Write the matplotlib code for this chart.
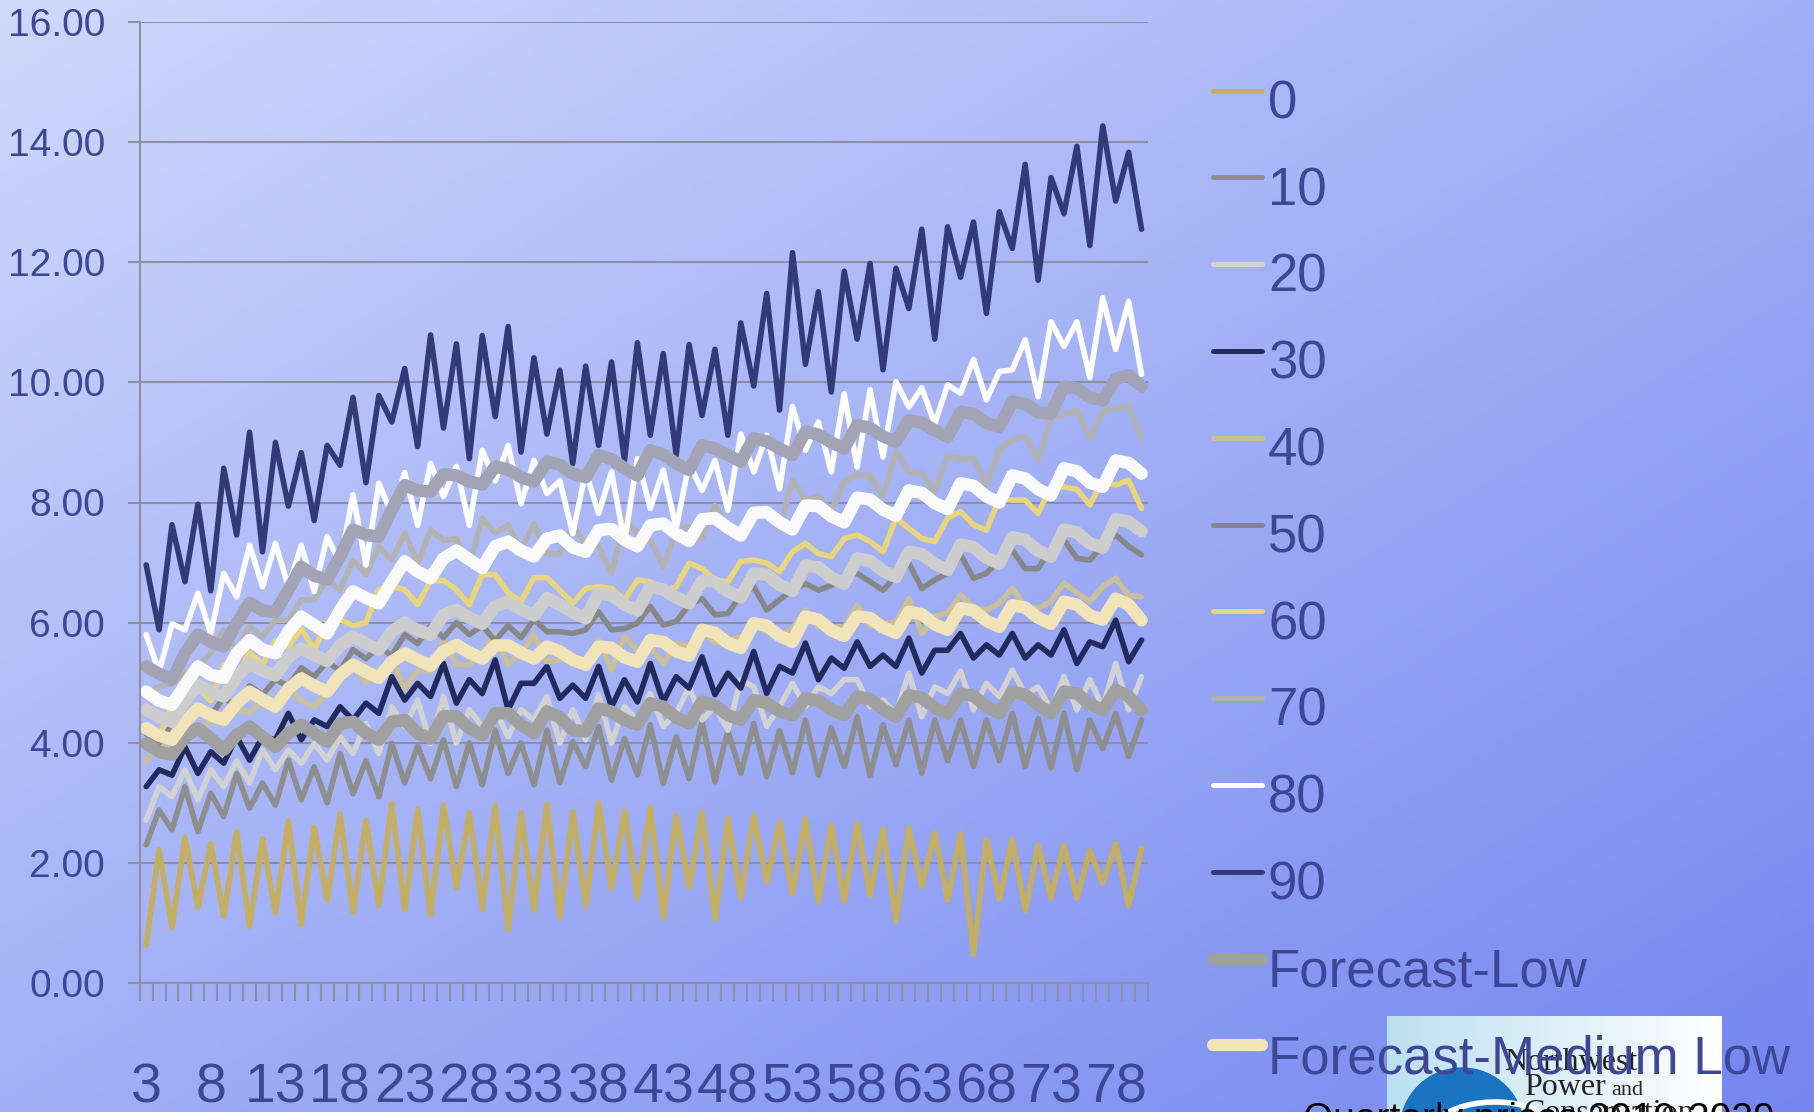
import matplotlib
matplotlib.use("Agg")
import matplotlib.pyplot as plt
import numpy as np
from matplotlib.lines import Line2D
from matplotlib.patches import Ellipse, Arc

plt.rcParams["font.family"] = ["Liberation Sans", "DejaVu Sans"]

W, H, DPI = 1815, 1112, 100
TEXT = "#3D4796"
GRID = "#8E8EA8"

# quarter index labels on the category axis
quarters = [str(q) for q in range(3, 81)]

s0 = [0.63, 2.22, 0.92, 2.43, 1.26, 2.32, 1.11, 2.52, 0.94, 2.40,
      1.17, 2.70, 0.98, 2.59, 1.37, 2.81, 1.18, 2.71, 1.29, 2.99,
      1.22, 2.89, 1.14, 2.96, 1.59, 2.83, 1.24, 2.96, 0.89, 2.83,
      1.21, 2.98, 1.09, 2.85, 1.28, 2.99, 1.58, 2.86, 1.42, 2.93,
      1.09, 2.79, 1.59, 2.85, 1.06, 2.74, 1.42, 2.79, 1.68, 2.68,
      1.49, 2.73, 1.35, 2.63, 1.36, 2.66, 1.46, 2.56, 1.03, 2.58,
      1.61, 2.50, 1.38, 2.49, 0.48, 2.39, 1.39, 2.39, 1.21, 2.29,
      1.42, 2.29, 1.41, 2.20, 1.66, 2.32, 1.28, 2.24]
s10 = [2.30, 2.88, 2.55, 3.27, 2.52, 3.16, 2.77, 3.49, 2.91, 3.33,
       2.96, 3.71, 3.05, 3.60, 3.00, 3.82, 3.15, 3.70, 3.10, 3.99,
       3.33, 3.95, 3.40, 4.05, 3.27, 4.00, 3.30, 4.21, 3.49, 4.00,
       3.30, 4.21, 3.33, 4.02, 3.60, 4.27, 3.38, 4.07, 3.46, 4.30,
       3.32, 4.10, 3.40, 4.35, 3.35, 4.20, 3.49, 4.32, 3.43, 4.20,
       3.50, 4.38, 3.46, 4.25, 3.60, 4.43, 3.45, 4.30, 3.63, 4.38,
       3.49, 4.38, 3.70, 4.38, 3.60, 4.38, 3.70, 4.49, 3.60, 4.40,
       3.58, 4.49, 3.55, 4.38, 3.90, 4.49, 3.77, 4.38]
s20 = [2.71, 3.27, 3.10, 3.55, 3.05, 3.55, 3.27, 3.70, 3.33, 3.88,
       3.55, 3.88, 3.66, 3.99, 3.71, 4.10, 3.82, 4.32, 3.82, 4.60,
       4.27, 4.71, 3.99, 4.77, 3.99, 4.55, 4.27, 4.55, 4.10, 4.55,
       4.38, 4.77, 3.99, 4.55, 4.05, 4.80, 3.99, 4.60, 4.38, 4.82,
       4.27, 4.49, 4.93, 4.38, 4.60, 4.21, 5.05, 4.93, 4.27, 4.60,
       4.99, 4.60, 4.93, 4.82, 5.05, 5.05, 4.60, 4.71, 4.49, 5.16,
       4.43, 4.93, 4.82, 5.19, 4.55, 4.99, 4.77, 5.21, 4.80, 4.93,
       4.55, 5.10, 4.55, 5.05, 4.60, 5.32, 4.55, 5.10]
s30 = [3.27, 3.55, 3.46, 3.93, 3.49, 3.85, 3.66, 4.10, 3.71, 4.10,
       4.05, 4.49, 4.05, 4.38, 4.27, 4.60, 4.38, 4.66, 4.49, 5.10,
       4.71, 4.99, 4.77, 5.32, 4.66, 5.05, 4.82, 5.38, 4.55, 4.99,
       4.99, 5.27, 4.74, 4.96, 4.74, 5.27, 4.60, 5.05, 4.68, 5.32,
       4.68, 5.10, 4.91, 5.43, 4.80, 5.16, 4.91, 5.52, 4.82, 5.27,
       5.16, 5.66, 5.05, 5.41, 5.24, 5.68, 5.27, 5.46, 5.27, 5.74,
       5.16, 5.54, 5.54, 5.82, 5.41, 5.63, 5.46, 5.82, 5.41, 5.63,
       5.46, 5.88, 5.32, 5.68, 5.60, 6.04, 5.35, 5.71]
s40 = [3.70, 3.95, 3.90, 4.20, 4.15, 4.40, 4.30, 4.55, 4.50, 4.70,
       4.60, 4.90, 4.70, 4.60, 4.85, 5.25, 5.30, 5.00, 5.20, 5.40,
       4.90, 5.20, 5.20, 5.70, 5.30, 5.30, 5.50, 5.80, 5.30, 5.50,
       5.80, 5.35, 5.38, 5.43, 5.30, 5.71, 5.21, 5.77, 5.54, 5.60,
       5.32, 5.66, 5.60, 5.88, 5.66, 5.71, 5.75, 5.99, 5.85, 5.77,
       5.90, 6.21, 5.93, 5.93, 5.93, 6.29, 5.95, 5.99, 6.00, 6.40,
       5.82, 6.10, 6.16, 6.46, 6.25, 6.21, 6.32, 6.57, 6.27, 6.24,
       6.35, 6.66, 6.50, 6.35, 6.60, 6.74, 6.45, 6.43]
s50 = [4.15, 4.00, 4.30, 4.25, 4.55, 4.45, 4.75, 4.60, 4.95, 4.80,
       5.05, 4.95, 5.25, 5.10, 5.35, 5.20, 5.55, 5.40, 5.60, 5.45,
       5.80, 5.65, 5.95, 5.75, 6.00, 5.80, 5.95, 5.70, 5.95, 5.75,
       6.05, 5.85, 5.85, 5.82, 5.88, 6.18, 5.88, 5.90, 5.99, 6.27,
       5.96, 6.02, 6.29, 6.40, 6.13, 6.15, 6.46, 6.60, 6.21, 6.38,
       6.54, 6.65, 6.54, 6.62, 6.77, 6.82, 6.68, 6.54, 6.77, 6.99,
       6.57, 6.71, 6.82, 7.13, 6.74, 6.82, 7.04, 7.21, 6.90, 6.90,
       7.24, 7.38, 7.07, 7.04, 7.29, 7.46, 7.27, 7.13]
s60 = [4.30, 4.10, 4.60, 4.60, 4.90, 4.70, 5.30, 5.10, 5.50, 5.30,
       5.70, 5.60, 5.90, 5.55, 6.00, 6.05, 5.95, 6.00, 6.55, 6.60,
       6.55, 6.30, 6.70, 6.70, 6.55, 6.30, 6.80, 6.80, 6.50, 6.35,
       6.75, 6.75, 6.54, 6.32, 6.57, 6.60, 6.57, 6.38, 6.71, 6.68,
       6.49, 6.60, 6.99, 6.90, 6.71, 6.68, 7.02, 7.04, 6.99, 6.85,
       7.18, 7.32, 7.15, 7.10, 7.40, 7.46, 7.35, 7.18, 7.74, 7.57,
       7.40, 7.35, 7.74, 7.85, 7.63, 7.54, 8.07, 8.04, 8.04, 7.82,
       8.26, 8.26, 8.22, 7.96, 8.37, 8.29, 8.37, 7.90]
s70 = [4.82, 4.93, 4.99, 5.16, 5.27, 5.49, 5.88, 5.54, 5.93, 5.77,
       6.04, 6.04, 6.38, 6.38, 6.71, 6.54, 7.04, 6.80, 7.27, 7.04,
       7.49, 6.99, 7.54, 7.37, 7.40, 6.95, 7.74, 7.49, 7.63, 7.21,
       7.65, 7.15, 7.15, 7.60, 7.30, 7.27, 6.82, 7.71, 7.50, 7.38,
       6.93, 7.54, 7.60, 7.40, 7.95, 7.60, 7.50, 7.90, 7.80, 7.55,
       8.38, 8.04, 8.10, 7.85, 8.35, 8.46, 8.45, 8.10, 8.85, 8.50,
       8.49, 8.18, 8.77, 8.72, 8.74, 8.29, 8.88, 9.05, 9.10, 8.71,
       9.40, 9.46, 9.54, 9.07, 9.51, 9.57, 9.60, 9.07]
s80 = [5.80, 5.18, 5.98, 5.88, 6.49, 5.82, 6.82, 6.43, 7.29, 6.60,
       7.32, 6.60, 7.29, 6.52, 7.43, 6.99, 8.13, 6.96, 8.32, 7.80,
       8.50, 7.62, 8.65, 8.10, 8.60, 7.62, 8.87, 8.36, 8.95, 7.98,
       8.70, 8.15, 8.36, 7.48, 8.51, 7.82, 8.51, 7.34, 8.73, 7.90,
       8.54, 7.57, 8.65, 8.20, 8.70, 7.87, 9.14, 8.51, 9.12, 8.23,
       9.60, 8.87, 9.34, 8.51, 9.81, 8.59, 9.88, 8.76, 10.01, 9.59,
       9.91, 9.31, 9.96, 9.82, 10.38, 9.71, 10.18, 10.21, 10.71, 9.76,
       11.01, 10.60, 11.01, 10.08, 11.41, 10.55, 11.35, 10.13]
s90 = [6.96, 5.88, 7.63, 6.68, 7.97, 6.53, 8.57, 7.46, 9.17, 7.18,
       9.00, 7.94, 8.83, 7.70, 8.95, 8.62, 9.75, 8.33, 9.78, 9.34,
       10.23, 8.93, 10.79, 9.24, 10.64, 8.73, 10.78, 9.43, 10.93, 8.84,
       10.41, 9.14, 10.20, 8.65, 10.27, 8.95, 10.34, 8.70, 10.66, 9.12,
       10.48, 8.79, 10.63, 9.45, 10.55, 9.12, 10.99, 9.94, 11.48, 9.54,
       12.16, 10.30, 11.51, 9.84, 11.85, 10.72, 11.98, 10.21, 11.90, 11.23,
       12.55, 10.72, 12.59, 11.75, 12.67, 11.15, 12.84, 12.23, 13.63, 11.70,
       13.41, 12.81, 13.93, 12.28, 14.27, 13.02, 13.83, 12.55]
fc_low = [3.99, 3.85, 3.80, 4.10, 4.24, 4.07, 3.88, 4.13, 4.27, 4.10,
          3.93, 4.16, 4.30, 4.16, 4.02, 4.32, 4.35, 4.16, 4.05, 4.35,
          4.38, 4.16, 4.07, 4.44, 4.44, 4.24, 4.13, 4.49, 4.49, 4.30,
          4.16, 4.52, 4.42, 4.21, 4.19, 4.57, 4.52, 4.38, 4.30, 4.66,
          4.60, 4.42, 4.32, 4.68, 4.62, 4.46, 4.38, 4.71, 4.66, 4.52,
          4.46, 4.74, 4.70, 4.55, 4.46, 4.77, 4.73, 4.56, 4.43, 4.79,
          4.75, 4.58, 4.49, 4.82, 4.78, 4.60, 4.49, 4.85, 4.80, 4.63,
          4.49, 4.85, 4.82, 4.64, 4.54, 4.88, 4.77, 4.54]
fc_medlow = [4.24, 4.12, 4.05, 4.35, 4.57, 4.46, 4.38, 4.66, 4.85, 4.72,
             4.60, 4.90, 5.07, 4.95, 4.85, 5.13, 5.30, 5.18, 5.08, 5.35,
             5.49, 5.38, 5.28, 5.52, 5.63, 5.50, 5.40, 5.62, 5.62, 5.50,
             5.40, 5.60, 5.52, 5.38, 5.30, 5.60, 5.58, 5.42, 5.35, 5.71,
             5.68, 5.52, 5.45, 5.88, 5.83, 5.66, 5.58, 5.99, 5.95, 5.78,
             5.68, 6.10, 6.05, 5.87, 5.78, 6.10, 6.08, 5.92, 5.83, 6.18,
             6.14, 5.97, 5.88, 6.24, 6.20, 6.03, 5.93, 6.29, 6.25, 6.08,
             5.98, 6.35, 6.30, 6.12, 6.05, 6.40, 6.30, 6.04]
fc_med = [4.55, 4.43, 4.35, 4.71, 4.96, 4.85, 4.77, 5.10, 5.32, 5.20,
          5.12, 5.43, 5.57, 5.46, 5.36, 5.62, 5.77, 5.65, 5.55, 5.85,
          6.00, 5.87, 5.80, 6.13, 6.21, 6.08, 5.98, 6.27, 6.35, 6.22,
          6.12, 6.41, 6.30, 6.17, 6.07, 6.49, 6.45, 6.30, 6.20, 6.60,
          6.55, 6.42, 6.32, 6.70, 6.68, 6.52, 6.42, 6.82, 6.80, 6.63,
          6.53, 6.95, 6.92, 6.75, 6.65, 7.07, 7.03, 6.86, 6.76, 7.18,
          7.14, 6.98, 6.88, 7.30, 7.26, 7.08, 6.98, 7.42, 7.38, 7.20,
          7.10, 7.55, 7.50, 7.32, 7.25, 7.72, 7.68, 7.52]
fc_medhigh = [4.85, 4.70, 4.63, 4.96, 5.27, 5.13, 5.08, 5.49, 5.71, 5.55,
              5.49, 5.85, 6.10, 5.96, 5.82, 6.21, 6.52, 6.41, 6.32, 6.68,
              7.02, 6.85, 6.74, 7.07, 7.20, 7.05, 6.91, 7.27, 7.35, 7.20,
              7.10, 7.40, 7.45, 7.25, 7.18, 7.54, 7.56, 7.38, 7.27, 7.62,
              7.65, 7.48, 7.36, 7.72, 7.74, 7.58, 7.45, 7.83, 7.84, 7.67,
              7.55, 7.95, 7.94, 7.77, 7.67, 8.08, 8.05, 7.88, 7.78, 8.20,
              8.16, 7.99, 7.89, 8.32, 8.28, 8.10, 8.00, 8.45, 8.40, 8.22,
              8.12, 8.57, 8.52, 8.33, 8.26, 8.70, 8.66, 8.48]
fc_high = [5.27, 5.15, 5.05, 5.49, 5.80, 5.68, 5.60, 5.99, 6.33, 6.20,
           6.18, 6.54, 6.93, 6.78, 6.72, 7.10, 7.55, 7.46, 7.43, 7.88,
           8.29, 8.20, 8.18, 8.47, 8.45, 8.35, 8.30, 8.60, 8.55, 8.42,
           8.35, 8.68, 8.63, 8.48, 8.42, 8.79, 8.72, 8.57, 8.45, 8.87,
           8.80, 8.65, 8.54, 8.95, 8.90, 8.79, 8.68, 9.07, 9.02, 8.90,
           8.79, 9.18, 9.13, 9.00, 8.90, 9.29, 9.24, 9.10, 9.01, 9.37,
           9.33, 9.20, 9.09, 9.51, 9.48, 9.32, 9.26, 9.68, 9.64, 9.50,
           9.48, 9.93, 9.90, 9.75, 9.70, 10.06, 10.12, 9.93]

names = ["0", "10", "20", "30", "40", "50", "60", "70", "80", "90",
         "Forecast-Low", "Forecast-Medium Low", "Forecast-Medium",
         "Forecast-Medium High", "Forecast-High"]
values = [s0, s10, s20, s30, s40, s50, s60, s70, s80, s90,
          fc_low, fc_medlow, fc_med, fc_medhigh, fc_high]
colors = ["#C4AE62", "#8E8E8E", "#D2D2D2", "#222A5E", "#C9BF98",
          "#878787", "#E8D57C", "#B2B2B2", "#FFFFFF", "#323A78",
          "#A0A0A0", "#F0E4B8", "#CDCDCD", "#FAFAFA", "#A2A4B6"]
widths = [4.0] * 10 + [9.0] * 5

fig = plt.figure(figsize=(W / DPI, H / DPI), dpi=DPI)

# diagonal slide background
bg = fig.add_axes([0, 0, 1, 1], zorder=-10)
gx, gy = np.meshgrid(np.linspace(0, 1, 400), np.linspace(0, 1, 260))
t = (0.5 * gx + 0.5 * gy)[..., None]
light = np.array([207, 217, 252]) / 255
dark = np.array([116, 134, 240]) / 255
bg.imshow(light + (dark - light) * t, aspect="auto", extent=(0, 1, 0, 1))
bg.axis("off")

ax = fig.add_axes([139.7 / W, 1 - 983 / H, (1148 - 139.7) / W, (983 - 22) / H])
ax.patch.set_alpha(0)
x = np.arange(len(quarters))
for vals, col, lw in zip(values, colors, widths):
    ax.plot(x, vals, color=col, lw=lw, solid_capstyle="round",
            solid_joinstyle="round")

ax.set_xlim(-0.5, len(quarters) - 0.5)
ax.set_ylim(0, 16)
ax.set_yticks(np.arange(0, 17, 2))
ax.yaxis.set_major_formatter("{x:.2f}")
ax.grid(axis="y", color=GRID, lw=1.5)
ax.set_axisbelow(True)
for side in ("top", "right"):
    ax.spines[side].set_visible(False)
for side in ("left", "bottom"):
    ax.spines[side].set_color(GRID)
    ax.spines[side].set_linewidth(1.5)

ax.tick_params(axis="y", length=9, width=1.5, color=GRID, labelsize=28,
               labelcolor=TEXT, pad=16)
ax.set_xticks(x[::5])
ax.set_xticklabels(quarters[::5])
ax.set_xticks(np.arange(-0.5, len(quarters), 1), minor=True)
ax.tick_params(axis="x", which="major", length=0, labelsize=40,
               labelcolor=TEXT, pad=57)
ax.tick_params(axis="x", which="minor", length=13, width=1.5, color=GRID)

# council logo in the lower right corner
lx0, lx1, ly0 = 1387, 1722, 1016
sx, sy = (lx1 - lx0), (H - ly0)
logo = fig.add_axes([lx0 / W, 0, sx / W, sy / H], zorder=1)
lg = np.linspace(0, 1, 200)[None, :, None]
lc0 = np.array([188, 224, 242]) / 255
logo.imshow(lc0 + (1 - lc0) * lg, aspect="auto", extent=(0, 1, 0, 1))
logo.set_xlim(0, 1)
logo.set_ylim(0, 1)
logo.axis("off")
logo.add_patch(Ellipse(((1462 - lx0) / sx, (H - 1130) / sy), 124 / sx,
                       124 / sy, color="#1B74C2", clip_on=False))
for dy in (14, 34):
    logo.add_patch(Arc(((1495 - lx0) / sx, (H - 1128 - dy) / sy), 140 / sx,
                       80 / sy, theta1=70, theta2=175, color="white", lw=4))
serif = ["Liberation Serif", "DejaVu Serif"]
logo.text((1504 - lx0) / sx, (H - 1070) / sy, "Northwest", family=serif,
          fontsize=23, color="#222222", va="baseline")
logo.text((1524 - lx0) / sx, (H - 1095) / sy, "Power", family=serif,
          fontsize=23, color="#222222", va="baseline")
logo.text((1611 - lx0) / sx, (H - 1095) / sy, "and", family=serif,
          fontsize=16, color="#222222", va="baseline")
logo.text((1524 - lx0) / sx, (H - 1121) / sy, "Conservation", family=serif,
          fontsize=23, color="#222222", va="baseline")

# legend drawn in figure space, entries run off the bottom edge
fs_leg = 38
cap = 0.716 * fs_leg * DPI / 72
for k, (name, col, lw) in enumerate(zip(names, colors, widths)):
    yc = 99.5 + 86.8 * k
    lw_leg = 3.6 if lw < 5 else 8.8
    fig.add_artist(Line2D([1213 / W, 1262 / W], [1 - (yc - 9) / H] * 2,
                          color=col, lw=lw_leg, solid_capstyle="round"))
    fig.text(1268 / W, 1 - (yc + cap / 2) / H, name, fontsize=fs_leg,
             color=TEXT, va="baseline", ha="left")

fig.text(1303 / W, 1 - 1130 / H, "Quarterly prices 2010-2029", fontsize=28,
         color="black", va="baseline", ha="left")

fig.savefig("out.png", dpi=DPI)
